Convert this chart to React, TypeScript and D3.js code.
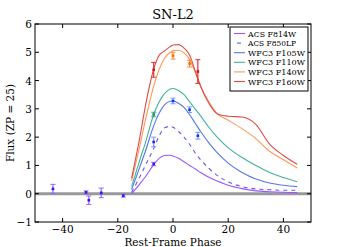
import React from "react";
import * as d3 from "d3";

const W = 346, H = 247;
const margin = { left: 35, right: 35, top: 24, bottom: 25 };

const phases = [-15, -12, -10, -7, -5, -3, -1, 0, 2, 4, 6, 8, 10, 13, 16, 20, 25, 30, 35, 40, 45];
const f814w = [0.0, 0.35, 0.6, 1.03, 1.25, 1.35, 1.36, 1.33, 1.25, 1.13, 1.0, 0.88, 0.75, 0.58, 0.45, 0.3, 0.18, 0.1, 0.07, 0.05, 0.04];
const f850lp = [0.05, 0.6, 1.0, 1.6, 2.05, 2.33, 2.38, 2.35, 2.2, 2.0, 1.75, 1.45, 1.2, 0.9, 0.65, 0.42, 0.25, 0.17, 0.14, 0.12, 0.12];
const f105w = [0.15, 0.95, 1.5, 2.4, 2.85, 3.15, 3.27, 3.28, 3.2, 3.05, 2.8, 2.5, 2.2, 1.8, 1.45, 1.08, 0.75, 0.52, 0.38, 0.3, 0.25];
const f110w = [0.25, 1.2, 1.8, 2.8, 3.25, 3.55, 3.7, 3.72, 3.65, 3.5, 3.25, 3.0, 2.75, 2.35, 2.0, 1.62, 1.28, 1.0, 0.75, 0.57, 0.42];
const f140w = [0.45, 1.7, 2.6, 3.8, 4.4, 4.8, 5.0, 5.06, 5.07, 4.98, 4.75, 4.3, 3.8, 3.25, 2.83, 2.6, 2.3, 1.95, 1.5, 1.2, 0.91];
const f160w = [0.55, 2.0, 3.1, 4.4, 4.9, 5.05, 5.2, 5.26, 5.27, 5.15, 4.9, 4.35, 3.8, 3.2, 2.83, 2.74, 2.71, 2.45, 1.75, 1.35, 1.04];

const names = ["ACS F814W", "ACS F850LP", "WFC3 F105W", "WFC3 F110W", "WFC3 F140W", "WFC3 F160W"];
const lineColors = ["#9955ff", "#6655ee", "#5577ee", "#44b399", "#ff9955", "#dd4c4c"];
const errColors = ["#9966ff", "#7799ff", "#7799ff", "#33aa88", "#ff8833", "#dd3333"];
const markColors = ["#3311ee", "#2222ee", "#1133ee", "#119977", "#ff6600", "#cc1111"];
const dashed = [false, true, false, false, false, false];
const curves = [f814w, f850lp, f105w, f110w, f140w, f160w];

// observations: [band index, phase, flux, err]
const obsBand = [0, 0, 0, 0, 0, 0, 1, 2, 2, 2, 3, 4, 4, 5, 5];
const obsPhase = [-43.5, -31.5, -30.5, -26, -18, -7, -7, 0, 6, 9, -7, 0, 6, -7, 9];
const obsFlux = [0.17, 0.05, -0.23, 0.03, -0.07, 1.05, 1.83, 3.28, 2.97, 2.05, 2.8, 4.88, 4.6, 4.38, 4.32];
const obsErr = [0.16, 0.05, 0.15, 0.17, 0.05, 0.06, 0.17, 0.1, 0.1, 0.12, 0.08, 0.12, 0.12, 0.26, 0.42];

const xTicks = [-40, -20, 0, 20, 40];
const yTicks = [-1, 0, 1, 2, 3, 4, 5, 6];

export default function App() {
  const x = d3.scaleLinear().domain([-50, 50]).range([margin.left, W - margin.right]);
  const y = d3.scaleLinear().domain([-1, 6]).range([H - margin.bottom, margin.top]);
  const line = d3.line<number>().x((_, i) => x(phases[i])).y((d) => y(d)).curve(d3.curveMonotoneX);
  const font = "'DejaVu Serif', serif";
  const x0 = margin.left, x1 = W - margin.right, y0 = margin.top, y1 = H - margin.bottom;
  const legX = 230, legY = 27, legW = 78, legH = 64;
  return (
    <svg width={W} height={H} style={{ position: "absolute", left: 0, top: 0, background: "#fff" }} fontFamily={font}>
      <defs>
        <clipPath id="clip"><rect x={x0} y={y0} width={x1 - x0} height={y1 - y0} /></clipPath>
      </defs>
      <g clipPath="url(#clip)">
        <line x1={x0} x2={x1} y1={y(0)} y2={y(0)} stroke="#999" strokeWidth={3} />
        {curves.map((c, k) => (
          <path key={k} d={line(c) || ""} fill="none" stroke={lineColors[k]} strokeWidth={1.1}
            strokeDasharray={dashed[k] ? "4,4" : undefined} />
        ))}
        {obsBand.map((b, i) => {
          const cx = x(obsPhase[i]);
          const top = y(obsFlux[i] + obsErr[i]);
          const bot = y(obsFlux[i] - obsErr[i]);
          return (
            <g key={i}>
              <line x1={cx} x2={cx} y1={top} y2={bot} stroke={errColors[b]} strokeWidth={1.2} />
              <line x1={cx - 2.5} x2={cx + 2.5} y1={top} y2={top} stroke={errColors[b]} strokeWidth={1} />
              <line x1={cx - 2.5} x2={cx + 2.5} y1={bot} y2={bot} stroke={errColors[b]} strokeWidth={1} />
              <rect x={cx - 1.3} y={y(obsFlux[i]) - 1.3} width={2.6} height={2.6} fill={markColors[b]} />
            </g>
          );
        })}
      </g>
      <rect x={x0} y={y0} width={x1 - x0} height={y1 - y0} fill="none" stroke="#000" strokeWidth={1} />
      {xTicks.map((t) => (
        <g key={t}>
          <line x1={x(t)} x2={x(t)} y1={y1} y2={y1 - 4} stroke="#000" />
          <line x1={x(t)} x2={x(t)} y1={y0} y2={y0 + 4} stroke="#000" />
          <text x={x(t)} y={y1 + 10.5} fontSize={10.5} textAnchor="middle">{t < 0 ? "\u2212" + Math.abs(t) : String(t)}</text>
        </g>
      ))}
      {yTicks.map((t) => (
        <g key={t}>
          <line x1={x0} x2={x0 + 4} y1={y(t)} y2={y(t)} stroke="#000" />
          <line x1={x1} x2={x1 - 4} y1={y(t)} y2={y(t)} stroke="#000" />
          <text x={x0 - 3} y={y(t) + 4} fontSize={10.5} textAnchor="end">{t < 0 ? "\u2212" + Math.abs(t) : String(t)}</text>
        </g>
      ))}
      <text x={(x0 + x1) / 2} y={19} fontSize={13} textAnchor="middle">SN-L2</text>
      <text x={(x0 + x1) / 2} y={245.5} fontSize={10.5} textAnchor="middle">Rest-Frame Phase</text>
      <text transform={`translate(14, ${(y0 + y1) / 2}) rotate(-90)`} fontSize={10.5} textAnchor="middle">Flux (ZP = 25)</text>
      <g>
        <rect x={legX} y={legY} width={legW} height={legH} fill="#fff" stroke="#000" strokeWidth={1} />
        {names.map((n, k) => {
          const ly = legY + 6.5 + k * 9.6;
          return (
            <g key={n}>
              <line x1={legX + 4} x2={legX + 15} y1={ly} y2={ly} stroke={lineColors[k]} strokeWidth={1.1}
                strokeDasharray={dashed[k] ? "4,4" : undefined} strokeDashoffset={dashed[k] ? -3 : undefined} />
              <text x={legX + 18} y={ly + 3} fontSize={8} textLength={n.startsWith("ACS") ? 48 : 57} lengthAdjust="spacingAndGlyphs">{n}</text>
            </g>
          );
        })}
      </g>
    </svg>
  );
}
